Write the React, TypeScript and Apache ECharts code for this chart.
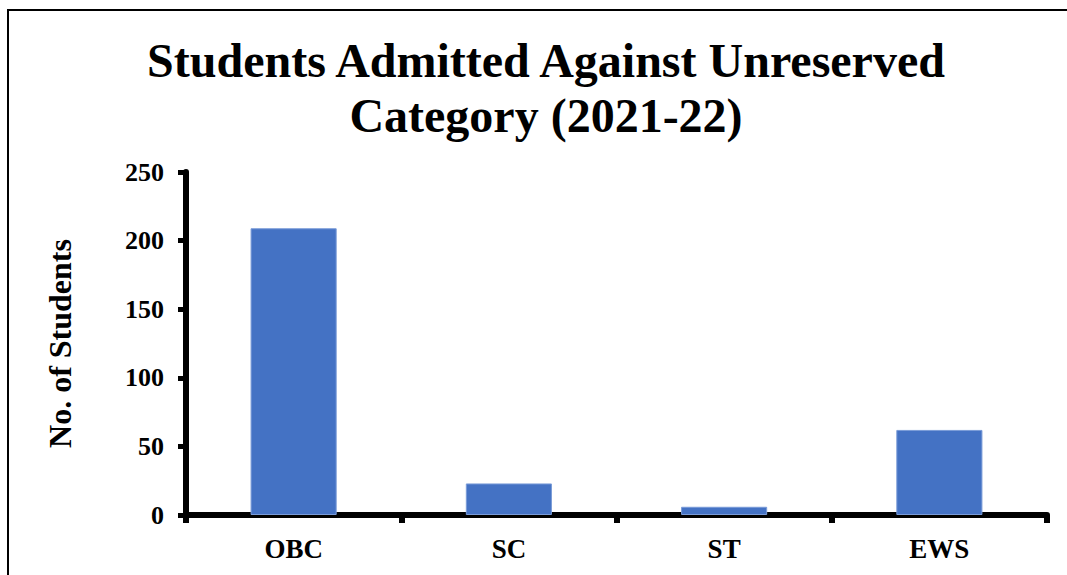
import React, { useEffect, useRef } from "react";
import * as echarts from "echarts";

const categories = ["OBC", "SC", "ST", "EWS"];
const students = [209, 23, 6, 62];
const titleLines = ["Students Admitted Against Unreserved", "Category (2021-22)"];
const yAxisName = "No. of Students";

const FONT = "'Liberation Serif', 'Times New Roman', serif";

export default function App() {
  const ref = useRef<HTMLDivElement>(null);
  useEffect(() => {
    if (!ref.current) return;
    const chart = echarts.init(ref.current, undefined, { renderer: "svg" });
    chart.setOption({
      animation: false,
      backgroundColor: "#ffffff",
      title: {
        text: titleLines.join("\n"),
        left: 541,
        textAlign: "center",
        top: 28,
        textStyle: {
          fontFamily: FONT,
          fontWeight: "bold",
          fontSize: 48,
          lineHeight: 55,
          color: "#000",
        },
      },
      graphic: [
        {
          type: "rect",
          shape: { x: 8, y: 10, width: 1080, height: 600 },
          style: { fill: "none", stroke: "#000", lineWidth: 2 },
          silent: true,
        },
      ],
      grid: { left: 186, top: 172, right: 20, bottom: 60, containLabel: false },
      xAxis: {
        type: "category",
        data: categories,
        axisLine: { show: true, lineStyle: { color: "#000", width: 6 } },
        axisTick: { show: true, length: 8, lineStyle: { color: "#000", width: 6 } },
        axisLabel: {
          margin: 20,
          fontFamily: FONT,
          fontWeight: "bold",
          fontSize: 27,
          color: "#000",
        },
      },
      yAxis: {
        type: "value",
        min: 0,
        max: 250,
        interval: 50,
        name: yAxisName,
        nameLocation: "middle",
        nameRotate: 90,
        nameGap: 110,
        nameTextStyle: {
          fontFamily: FONT,
          fontWeight: "bold",
          fontSize: 32,
          color: "#000",
        },
        axisLine: { show: true, lineStyle: { color: "#000", width: 6 } },
        axisTick: { show: true, length: 8, lineStyle: { color: "#000", width: 5 } },
        splitLine: { show: false },
        axisLabel: {
          margin: 22,
          fontFamily: FONT,
          fontWeight: "bold",
          fontSize: 26,
          color: "#000",
        },
      },
      series: [
        {
          type: "bar",
          data: students,
          barWidth: "40%",
          itemStyle: { color: "#4472C4", borderColor: "#7A9BD8", borderWidth: 1 },
          z: 1,
        },
      ],
    });
    return () => chart.dispose();
  }, []);
  return (
    <div
      ref={ref}
      style={{ position: "fixed", left: 0, top: 0, width: 1067, height: 575, background: "#fff" }}
    />
  );
}
